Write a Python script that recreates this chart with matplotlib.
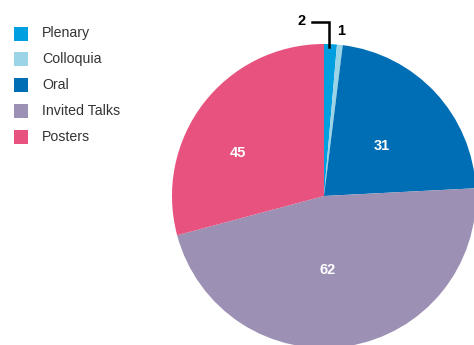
import numpy as np
import matplotlib.pyplot as plt
from matplotlib.patches import Rectangle

plt.rcParams['font.family'] = ['Liberation Sans', 'DejaVu Sans']

categories = ['Plenary', 'Colloquia', 'Oral', 'Invited Talks', 'Posters']
values = [2, 1, 31, 62, 45]
# slice sizes as drawn in the reference (degrees)
slice_deg = [4.9, 2.2, 80.0, 168.0, 105.0]
colors = ['#009FE0', '#9BD4E6', '#006EB5', '#9C90B4', '#E7527F']

fig = plt.figure(figsize=(4.74, 3.45), dpi=100)
ax = fig.add_axes([0, 0, 1, 1])

cx, cy, r = 324, 149, 152
wedges, _ = ax.pie(slice_deg, colors=colors, startangle=90, counterclock=False,
                   center=(cx, cy), radius=r, wedgeprops=dict(linewidth=0))
ax.set_xlim(0, 474)
ax.set_ylim(0, 345)
ax.set_aspect('equal')
ax.axis('off')

# labels inside the big slices (distance as fraction of radius, angle tweak)
inside = {2: (0.50, -2), 3: (0.49, -6), 4: (0.63, 11)}
for i, (dist, tweak) in inside.items():
    w = wedges[i]
    ang = np.deg2rad((w.theta1 + w.theta2) / 2 + tweak)
    ax.text(cx + dist * r * np.cos(ang), cy + dist * r * np.sin(ang), str(values[i]),
            color='white', fontsize=10.5, fontweight='bold', ha='center', va='center')

# small slices: callouts above the pie
w0 = wedges[0]
a0 = np.deg2rad((w0.theta1 + w0.theta2) / 2)
x0, y0 = cx + r * np.cos(a0), cy + r * np.sin(a0)
ax.plot([x0 - 1.5, x0 - 1.5, x0 - 18], [y0 - 3, y0 + 22, y0 + 22], color='black', lw=1.8,
        solid_joinstyle='miter')
ax.text(x0 - 29, y0 + 23, str(values[0]), fontsize=10.5, fontweight='bold',
        ha='center', va='center')
w1 = wedges[1]
a1 = np.deg2rad((w1.theta1 + w1.theta2) / 2)
x1, y1 = cx + r * np.cos(a1), cy + r * np.sin(a1)
ax.text(x1 + 1, y1 + 14, str(values[1]), fontsize=10.5, fontweight='bold',
        ha='center', va='center')

# legend
for k, (name, col) in enumerate(zip(categories, colors)):
    yy = 345 - 33.5 - k * 25.8
    ax.add_patch(Rectangle((14, yy - 7), 14, 14, color=col, lw=0))
    ax.text(42, yy, name, fontsize=10.2, color='#333333', va='center', ha='left')

fig.savefig('out.png', dpi=100)
